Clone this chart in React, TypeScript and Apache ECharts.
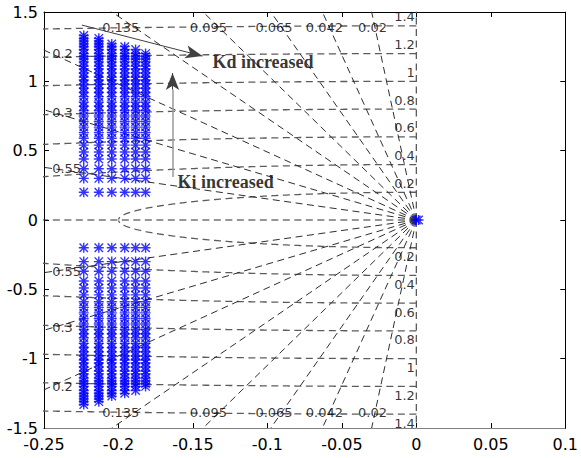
import React, { useEffect, useRef } from 'react';
import * as echarts from 'echarts';

// ---- axes ----
const X_MIN = -0.25;
const X_MAX = 0.1;
const X_STEP = 0.05;
const Y_MIN = -1.5;
const Y_MAX = 1.5;
const Y_STEP = 0.5;

// ---- s-grid values ----
const dampingValues = [0.02, 0.042, 0.065, 0.095, 0.135, 0.2, 0.3, 0.55];
const wnValues = [0.2, 0.4, 0.6, 0.8, 1.0, 1.2, 1.4];

// ---- closed-loop poles (real part per column, imag levels, column top) ----
const columnRe = [-0.2233, -0.2132, -0.2045, -0.1958, -0.1885, -0.1818];
const columnTopIm = [1.33, 1.31, 1.28, 1.26, 1.24, 1.2];
const imLevels = [
  0.2, 0.3, 0.37, 0.44, 0.49, 0.54, 0.59, 0.63, 0.67, 0.71, 0.75, 0.79, 0.82,
  0.85, 0.89, 0.92, 0.95, 0.98, 1.01, 1.03, 1.06, 1.09, 1.11, 1.14, 1.16,
  1.18, 1.2, 1.23, 1.25, 1.27, 1.29, 1.31, 1.33,
];
const originPoles = [
  [0, 0],
  [0.0015, 0],
];

// ---- annotations (data coordinates) ----
const kdArrowFrom = [-0.2246, 1.406];
const kdArrowTo = [-0.1436, 1.182];
const kiArrowFrom = [-0.1637, 0.31];
const kiArrowHeadBase = [-0.1637, 0.94];
const kiArrowTo = [-0.1637, 1.06];
const kdTextAt = [-0.1369, 1.139];
const kiTextAt = [-0.1603, 0.274];
const kdText = 'Kd increased';
const kiText = 'Ki increased';

const STAR =
  'path://M4.3,0H5.7V10H4.3Z M0,4.3H10V5.7H0Z M1.27,0.28L9.72,8.73L8.73,9.72L0.28,1.27Z M0.28,8.73L8.73,0.28L9.72,1.27L1.27,9.72Z';

const WN_COLOR = '#5c5c5c';
const RAY_COLOR = '#2e2e2e';
const DASH = [7, 4.5];

function buildOption() {
  const series: any[] = [];

  // natural-frequency circles
  wnValues.forEach((wn) => {
    const alpha = Math.min(Math.PI / 2, Math.asin(Math.min(1, 0.26 / wn)));
    [1, -1].forEach((s) => {
      const pts: number[][] = [];
      const N = 300;
      for (let i = 0; i <= N; i++) {
        const t = (alpha * i) / N;
        pts.push([-wn * Math.sin(t), s * wn * Math.cos(t)]);
      }
      series.push({
        type: 'line',
        data: pts,
        showSymbol: false,
        symbol: 'none',
        silent: true,
        clip: true,
        lineStyle: { color: WN_COLOR, width: 1.3, type: DASH },
        z: 1,
      });
    });
  });

  // damping rays
  const rayZetas = [0, ...dampingValues];
  rayZetas.forEach((z) => {
    const T = 4;
    [1, -1].forEach((s) => {
      series.push({
        type: 'line',
        data: [
          [0, 0],
          [-z * T, s * Math.sqrt(1 - z * z) * T],
        ],
        showSymbol: false,
        symbol: 'none',
        silent: true,
        clip: true,
        lineStyle: { color: z === 0 ? WN_COLOR : RAY_COLOR, width: z === 0 ? 1.3 : 1, type: DASH },
        z: 1,
      });
    });
  });
  // zeta = 1 (negative real axis)
  series.push({
    type: 'line',
    data: [
      [0, 0],
      [-1, 0],
    ],
    showSymbol: false,
    symbol: 'none',
    silent: true,
    clip: true,
    lineStyle: { color: RAY_COLOR, width: 1.2, type: DASH },
    z: 1,
  });

  // grid labels
  const labelItems: any[] = [];
  const labelFont = { fontFamily: 'DejaVu Sans', fontSize: 13, color: '#000' };
  wnValues.forEach((wn) => {
    [1, -1].forEach((s) => {
      labelItems.push({
        value: [0, s * wn],
        name: String(wn),
        label: {
          show: true,
          formatter: '{b}',
          position: 'inside',
          align: 'right',
          verticalAlign: 'middle',
          offset: [-1.5, -9 * s],
          ...labelFont,
        },
      });
    });
  });
  dampingValues.forEach((z) => {
    const k = Math.sqrt(1 - z * z) / z;
    const xLeft = -0.2445;
    const yLeft = -xLeft * k;
    [1, -1].forEach((s) => {
      if (yLeft <= 1.4) {
        labelItems.push({
          value: [xLeft, s * yLeft],
          name: String(z),
          label: {
            show: true,
            formatter: '{b}',
            position: 'inside',
            align: 'left',
            verticalAlign: 'middle',
            ...labelFont,
          },
        });
      } else {
        labelItems.push({
          value: [-1.47 * z, s * 1.39],
          name: String(z),
          label: {
            show: true,
            formatter: '{b}',
            position: 'inside',
            align: 'center',
            verticalAlign: 'middle',
            ...labelFont,
          },
        });
      }
    });
  });
  series.push({
    type: 'scatter',
    data: labelItems,
    symbolSize: 1,
    itemStyle: { color: 'rgba(0,0,0,0)' },
    silent: true,
    z: 3,
  });

  // poles
  const poles: number[][] = [];
  columnRe.forEach((re, ci) => {
    imLevels.forEach((im) => {
      if (im <= columnTopIm[ci] + 1e-9) {
        poles.push([re, im]);
        poles.push([re, -im]);
      }
    });
  });
  originPoles.forEach((p) => poles.push(p));
  series.push({
    type: 'scatter',
    data: poles,
    symbol: STAR,
    symbolSize: 10,
    itemStyle: { color: '#0000ff' },
    silent: true,
    z: 4,
  });

  // annotations
  const annotFont = {
    fontFamily: 'Liberation Serif',
    fontWeight: 'bold',
    fontSize: 18,
    color: '#000',
  };
  series.push({
    type: 'scatter',
    data: [
      { value: kdTextAt, name: kdText },
      { value: kiTextAt, name: kiText },
    ],
    symbolSize: 1,
    itemStyle: { color: 'rgba(0,0,0,0)' },
    label: {
      show: true,
      formatter: '{b}',
      position: 'inside',
      align: 'left',
      verticalAlign: 'middle',
      ...annotFont,
    },
    silent: true,
    z: 5,
    markLine: {
      silent: true,
      animation: false,
      label: { show: false },
      symbol: ['none', 'arrow'],
      data: [
        [
          { coord: kdArrowFrom, symbol: 'none', lineStyle: { color: '#404040', width: 1, type: 'solid' } },
          { coord: kdArrowTo, symbol: 'arrow', symbolSize: [10, 17] },
        ],
        [
          { coord: kiArrowFrom, symbol: 'none', lineStyle: { color: '#9a9a9a', width: 1.5, type: 'solid' } },
          { coord: kiArrowHeadBase, symbol: 'none' },
        ],
        [
          { coord: kiArrowHeadBase, symbol: 'none', lineStyle: { color: '#404040', width: 1, type: 'solid' } },
          { coord: kiArrowTo, symbol: 'arrow', symbolSize: [10, 17] },
        ],
      ],
    },
  });

  const tickFont = { fontFamily: 'DejaVu Sans', fontSize: 16, color: '#000' };
  const axisCommon = {
    axisLine: { show: true, onZero: false, lineStyle: { color: '#000', width: 1 } },
    axisTick: { show: true, inside: true, length: 5, lineStyle: { color: '#000', width: 1 } },
    splitLine: { show: false },
  };

  return {
    animation: false,
    backgroundColor: '#fff',
    grid: { left: 44, right: 14, top: 12, bottom: 30, containLabel: false },
    xAxis: [
      {
        type: 'value',
        min: X_MIN,
        max: X_MAX,
        interval: X_STEP,
        position: 'bottom',
        ...axisCommon,
        axisLabel: { ...tickFont, margin: 8 },
      },
      {
        type: 'value',
        min: X_MIN,
        max: X_MAX,
        interval: X_STEP,
        position: 'top',
        ...axisCommon,
        axisLabel: { show: false },
      },
    ],
    yAxis: [
      {
        type: 'value',
        min: Y_MIN,
        max: Y_MAX,
        interval: Y_STEP,
        position: 'left',
        ...axisCommon,
        axisLabel: { ...tickFont, margin: 6 },
      },
      {
        type: 'value',
        min: Y_MIN,
        max: Y_MAX,
        interval: Y_STEP,
        position: 'right',
        ...axisCommon,
        axisLabel: { show: false },
      },
    ],
    graphic: [
      { type: 'rect', shape: { x: 45, y: 0, width: 536, height: 11.5 }, style: { fill: '#fff' }, z: 100 },
      { type: 'rect', shape: { x: 45, y: 428.6, width: 520, height: 6 }, style: { fill: '#fff' }, z: 100 },
    ],
    series,
  };
}

export default function App() {
  const ref = useRef<HTMLDivElement>(null);
  useEffect(() => {
    document.body.style.margin = '0';
    if (!ref.current) return;
    const chart = echarts.init(ref.current, undefined, { renderer: 'svg' });
    chart.setOption(buildOption() as any);
    return () => chart.dispose();
  }, []);
  return <div ref={ref} style={{ width: 581, height: 458 }} />;
}
